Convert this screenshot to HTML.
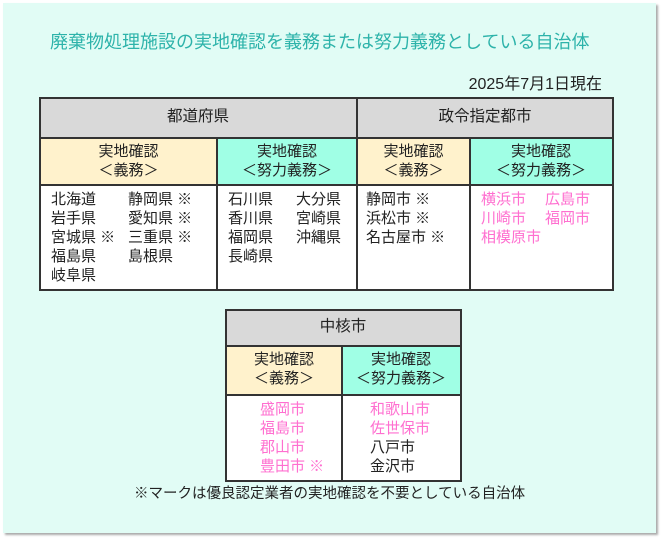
<!DOCTYPE html>
<html><head><meta charset="utf-8"><style>
*{margin:0;padding:0;box-sizing:border-box}
body{width:664px;height:540px;background:#fff;font-family:"Liberation Sans","Noto Sans CJK JP",sans-serif;color:#222;position:relative;overflow:hidden}
.panel{position:absolute;left:3px;top:3px;width:653px;height:530px;background:#e1fcf5;box-shadow:2px 2px 2px #aaa}
.a{position:absolute;white-space:nowrap}
.b{position:absolute;border:2px solid #333}
.l{position:absolute;background:#333}
.t{font-size:15px;line-height:19px}
.p{color:#ff6fd0}
.c{text-align:center}
</style></head><body>
<div class="panel"></div>
<div class="a" style="left:50px;top:28px;font-size:18px;color:#2db3aa">廃棄物処理施設の実地確認を義務または努力義務としている自治体</div>
<div class="a" style="right:62px;top:70px;font-size:16px">2025年7月1日現在</div>

<!-- table 1 -->
<div class="a" style="left:40px;top:98px;width:572px;height:40px;background:#d9d9d9"></div>
<div class="a" style="left:40px;top:138px;width:177px;height:47px;background:#fff2cc"></div>
<div class="a" style="left:217px;top:138px;width:140px;height:47px;background:#a0ffe5"></div>
<div class="a" style="left:357px;top:138px;width:113px;height:47px;background:#fff2cc"></div>
<div class="a" style="left:470px;top:138px;width:142px;height:47px;background:#a0ffe5"></div>
<div class="a" style="left:40px;top:185px;width:572px;height:105px;background:#fff"></div>
<div class="b" style="left:39px;top:97px;width:575px;height:194px"></div>
<div class="l" style="left:40px;top:137px;width:572px;height:2px"></div>
<div class="l" style="left:40px;top:184px;width:572px;height:2px"></div>
<div class="l" style="left:356px;top:98px;width:2px;height:192px"></div>
<div class="l" style="left:216px;top:137px;width:2px;height:153px"></div>
<div class="l" style="left:469px;top:137px;width:2px;height:153px"></div>
<div class="a t c" style="left:40px;top:107px;width:316px;font-size:15.5px">都道府県</div>
<div class="a t c" style="left:358px;top:107px;width:254px;font-size:15.5px">政令指定都市</div>
<div class="a t c" style="left:40px;top:142px;width:177px">実地確認<br>＜義務＞</div>
<div class="a t c" style="left:217px;top:142px;width:140px">実地確認<br>＜努力義務＞</div>
<div class="a t c" style="left:357px;top:142px;width:113px">実地確認<br>＜義務＞</div>
<div class="a t c" style="left:470px;top:142px;width:142px">実地確認<br>＜努力義務＞</div>
<div class="a t" style="left:51px;top:190px">北海道<br>岩手県<br>宮城県 ※<br>福島県<br>岐阜県</div>
<div class="a t" style="left:128px;top:190px">静岡県 ※<br>愛知県 ※<br>三重県 ※<br>島根県</div>
<div class="a t" style="left:228px;top:190px">石川県<br>香川県<br>福岡県<br>長崎県</div>
<div class="a t" style="left:296px;top:190px">大分県<br>宮崎県<br>沖縄県</div>
<div class="a t" style="left:366px;top:190px">静岡市 ※<br>浜松市 ※<br>名古屋市 ※</div>
<div class="a t p" style="left:481px;top:190px">横浜市<br>川崎市<br>相模原市</div>
<div class="a t p" style="left:545px;top:190px">広島市<br>福岡市</div>

<!-- table 2 -->
<div class="a" style="left:226px;top:310px;width:234px;height:36px;background:#d9d9d9"></div>
<div class="a" style="left:226px;top:347px;width:116px;height:48px;background:#fff2cc"></div>
<div class="a" style="left:342px;top:347px;width:118px;height:48px;background:#a0ffe5"></div>
<div class="a" style="left:226px;top:395px;width:234px;height:86px;background:#fff"></div>
<div class="b" style="left:225px;top:309px;width:237px;height:173px"></div>
<div class="l" style="left:226px;top:345px;width:234px;height:2px"></div>
<div class="l" style="left:226px;top:394px;width:234px;height:2px"></div>
<div class="l" style="left:341px;top:346px;width:2px;height:134px"></div>
<div class="a t c" style="left:226px;top:317px;width:234px;font-size:15.5px">中核市</div>
<div class="a t c" style="left:226px;top:350px;width:116px">実地確認<br>＜義務＞</div>
<div class="a t c" style="left:342px;top:350px;width:118px">実地確認<br>＜努力義務＞</div>
<div class="a t p" style="left:260px;top:400px">盛岡市<br>福島市<br>郡山市<br>豊田市 ※</div>
<div class="a t" style="left:370px;top:400px"><span class="p">和歌山市<br>佐世保市</span><br>八戸市<br>金沢市</div>
<div class="a t" style="left:134px;top:485px;font-size:14.5px">※マークは優良認定業者の実地確認を不要としている自治体</div>
</body></html>
